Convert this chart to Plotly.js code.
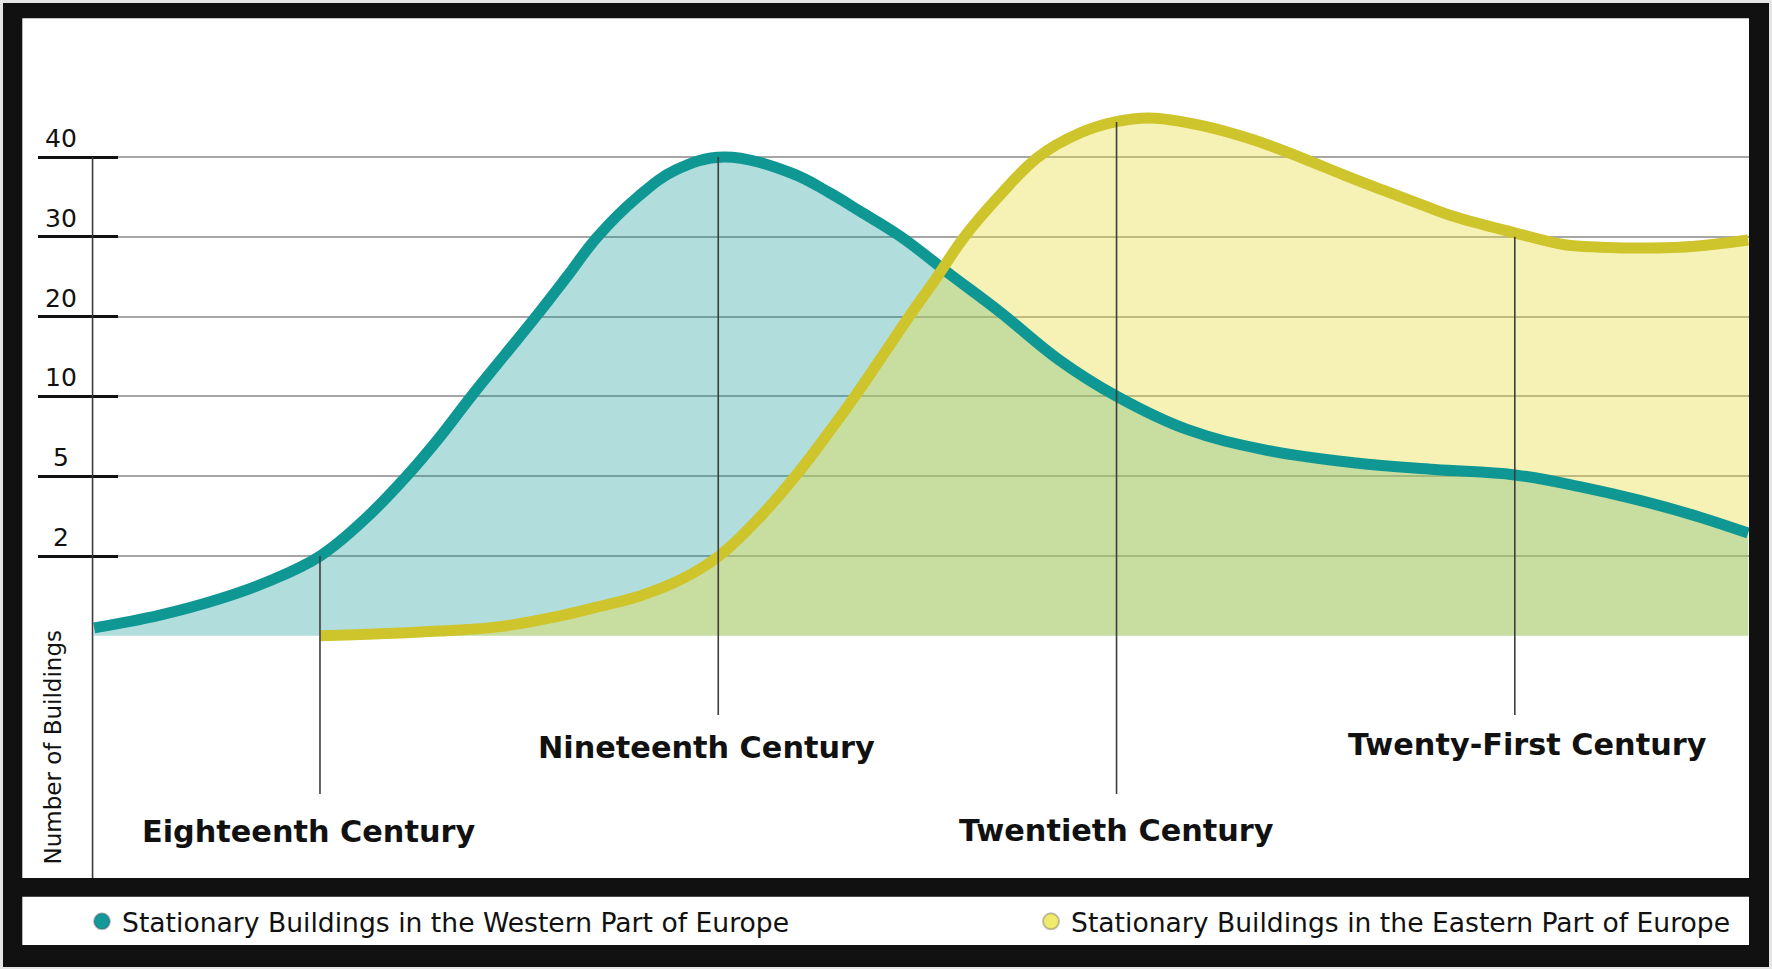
<!DOCTYPE html>
<html>
<head>
<meta charset="utf-8">
<script src="https://cdn.plot.ly/plotly-3.0.1.min.js"></script>
<style>
html,body{margin:0;padding:0;background:#e5e5e5;}
#chart{width:1772px;height:969px;}
</style>
</head>
<body>
<div id="chart"></div>
<script>
// ---------------- data ----------------
const centuries = ['Eighteenth Century', 'Nineteenth Century', 'Twentieth Century', 'Twenty-First Century'];
const centuryYears = [1700, 1800, 1900, 2000];
const markerTopCounts = [2, 40, 44.4, 30];

const yTickCounts = [2, 5, 10, 20, 30, 40];
const yTickLabels = ['2', '5', '10', '20', '30', '40'];
const yTitle = 'Number of Buildings';

const seriesNames = ['Stationary Buildings in the Western Part of Europe',
                     'Stationary Buildings in the Eastern Part of Europe'];

const westYears  = [1643.3, 1659.8, 1674.9, 1687.4, 1700.0, 1711.3, 1721.6, 1730.1, 1737.9, 1746.4,
                    1754.2, 1762.0, 1769.5, 1779.8, 1789.4, 1801.4, 1818.3, 1828.0, 1835.6,
                    1845.6, 1858.2, 1870.7, 1885.5, 1900.1, 1917.7, 1937.5, 1960.1, 1979.9, 2000.0,
                    2016.3, 2031.4, 2046.3, 2058.6];
const westCounts = [0.20, 0.52, 0.93, 1.38, 2.0, 3.39, 4.98, 7.46, 9.98, 15.2,
                    20.0, 25.0, 29.9, 35.0, 38.4, 40.0, 38.0, 35.5, 33.2,
                    30.1, 25.3, 20.6, 14.6, 10.0, 7.93, 6.64, 5.83, 5.42, 5.08,
                    4.61, 4.09, 3.47, 2.86];

const eastYears  = [1700.0, 1715.1, 1730.1, 1745.2, 1760.3, 1769.5, 1780.3, 1790.4, 1800.2, 1810.5,
                    1820.0, 1828.0, 1834.3, 1840.6, 1847.9, 1854.7, 1861.8, 1870.7, 1880.3, 1890.8,
                    1899.6, 1908.4, 1920.9, 1934.7, 1946.5, 1957.3, 1966.6, 1976.2, 1985.0, 2000.0,
                    2012.6, 2021.4, 2028.9, 2044.5, 2058.6];
const eastCounts = [0, 0.05, 0.12, 0.23, 0.50, 0.72, 1.0, 1.40, 2.0, 3.47,
                    5.2, 7.83, 10.0, 14.6, 20.0, 24.8, 30.0, 35.2, 40.0, 43.0,
                    44.4, 44.9, 44.0, 42.1, 39.9, 37.7, 35.9, 34.1, 32.5, 30.5,
                    29.0, 28.7, 28.6, 28.8, 29.6];

// ---------------- ordinal count axis (equal spacing between labelled counts) ----------------
const LV_C = [0].concat(yTickCounts);
function lvl(v) {
  const n = LV_C.length - 1;
  if (v >= LV_C[n]) return n + (v - LV_C[n]) / 10;
  for (let k = 1; k <= n; k++) {
    if (v <= LV_C[k]) return (k - 1) + (v - LV_C[k - 1]) / (LV_C[k] - LV_C[k - 1]);
  }
}

// ---------------- styles ----------------
const TEAL = '#0f9794', TEAL_FILL = 'rgba(14,150,148,0.32)', TEAL_DOT = '#13999a';
const YEL = '#cec52c', YEL_FILL = 'rgba(232,222,70,0.40)', YEL_DOT = '#f1ea6c';
const INK = '#111111';

// geometry helpers (plot area: x 38..1749, y 18..878)
const PL = 38, PR = 1749, PT = 18, PB = 878;
const pxX = p => (p - PL) / (PR - PL);
const pxY = p => (PB - p) / (PB - PT);
const X_RANGE = [1629.2, 2058.8];
const Y_RANGE = [-3.035, 7.742];

const westLv = westCounts.map(lvl);
const eastLv = eastCounts.map(lvl);

const traces = [
  {x: westYears, y: westLv, type: 'scatter', mode: 'none', fill: 'tozeroy', fillcolor: TEAL_FILL,
   line: {shape: 'spline', smoothing: 1.1, width: 0}, showlegend: false, hoverinfo: 'skip'},
  {x: eastYears, y: eastLv, type: 'scatter', mode: 'none', fill: 'tozeroy', fillcolor: YEL_FILL,
   line: {shape: 'spline', smoothing: 1.1, width: 0}, showlegend: false, hoverinfo: 'skip'},
  {x: westYears, y: westLv, type: 'scatter', mode: 'lines', name: seriesNames[0],
   line: {shape: 'spline', smoothing: 1.1, width: 11, color: TEAL}, showlegend: false},
  {x: eastYears, y: eastLv, type: 'scatter', mode: 'lines', name: seriesNames[1],
   line: {shape: 'spline', smoothing: 1.1, width: 11, color: YEL}, showlegend: false},
  {x: [null], y: [null], type: 'scatter', mode: 'markers', name: seriesNames[0], legend: 'legend',
   marker: {size: 18, color: TEAL_DOT, line: {color: 'rgba(80,80,80,0.35)', width: 2}}},
  {x: [null], y: [null], type: 'scatter', mode: 'markers', name: seriesNames[1], legend: 'legend2',
   marker: {size: 18, color: YEL_DOT, line: {color: 'rgba(80,80,80,0.35)', width: 2}}}
];

const shapes = [
  // frame
  {type: 'rect', xref: 'paper', yref: 'paper', layer: 'below', x0: pxX(3), x1: pxX(1769), y0: pxY(967), y1: pxY(3),
   fillcolor: INK, line: {width: 0}},
  {type: 'rect', xref: 'paper', yref: 'paper', layer: 'below', x0: pxX(22.3), x1: pxX(1749), y0: pxY(878), y1: pxY(18.3),
   fillcolor: '#ffffff', line: {width: 0}},
  {type: 'rect', xref: 'paper', yref: 'paper', layer: 'below', x0: pxX(22.3), x1: pxX(1749), y0: pxY(945), y1: pxY(896.7),
   fillcolor: '#ffffff', line: {width: 0}},
  // vertical axis line
  {type: 'line', xref: 'x', yref: 'y', x0: 1642.9, x1: 1642.9, y0: Y_RANGE[0], y1: lvl(40),
   line: {color: '#3a3a3a', width: 1.6}}
];
const markerBottoms = [-1.982, -0.992, -1.982, -0.992];
centuryYears.forEach((yr, i) => {
  shapes.push({type: 'line', xref: 'x', yref: 'y', x0: yr, x1: yr, y0: lvl(markerTopCounts[i]), y1: markerBottoms[i],
               line: {color: '#3d3d3d', width: 1.6}});
});

const annotations = [];
yTickCounts.forEach((c, i) => {
  annotations.push({xref: 'paper', yref: 'y', x: pxX(61), y: lvl(c), xanchor: 'center', yanchor: 'bottom',
                    text: yTickLabels[i], showarrow: false, yshift: 2,
                    font: {family: 'DejaVu Sans', size: 25, color: INK}});
});
annotations.push({xref: 'paper', yref: 'paper', x: pxX(52), y: pxY(747.5), xanchor: 'center', yanchor: 'middle',
                  text: yTitle, textangle: -90, showarrow: false,
                  font: {family: 'DejaVu Sans', size: 23, color: INK}});
const labelDX = [-2.8, -3.0, 0, 3.2];
const labelY = [-2.455, -1.400, -2.434, -1.368];
centuries.forEach((name, i) => {
  annotations.push({xref: 'x', yref: 'y', x: centuryYears[i] + labelDX[i], y: labelY[i],
                    xanchor: 'center', yanchor: 'middle', text: '<b>' + name + '</b>', showarrow: false,
                    font: {family: 'DejaVu Sans', size: 30.3, color: INK}});
});

const legendBase = {orientation: 'h', xanchor: 'left', yanchor: 'middle', y: pxY(921.5),
                    bgcolor: 'rgba(0,0,0,0)', borderwidth: 0,
                    font: {family: 'DejaVu Sans', size: 26.6, color: INK},
                    itemclick: false, itemdoubleclick: false};

const layout = {
  width: 1772, height: 969,
  margin: {l: PL, r: 1772 - PR, t: PT, b: 969 - PB, pad: 0, autoexpand: false},
  paper_bgcolor: '#e5e5e5',
  plot_bgcolor: '#ffffff',
  xaxis: {range: X_RANGE, showgrid: false, zeroline: false, showticklabels: false, ticks: '', showline: false, fixedrange: true},
  yaxis: {range: Y_RANGE, tickmode: 'array', tickvals: yTickCounts.map(lvl), ticktext: yTickLabels,
          showticklabels: false, showgrid: true, gridcolor: '#a6a6a6', gridwidth: 2,
          ticks: 'inside', ticklen: 80, tickwidth: 3, tickcolor: INK,
          zeroline: false, showline: false, fixedrange: true},
  showlegend: true,
  legend: Object.assign({}, legendBase, {x: pxX(82)}),
  legend2: Object.assign({}, legendBase, {x: pxX(1031)}),
  shapes: shapes,
  annotations: annotations
};

Plotly.newPlot('chart', traces, layout, {displayModeBar: false, staticPlot: true});
</script>
</body>
</html>
